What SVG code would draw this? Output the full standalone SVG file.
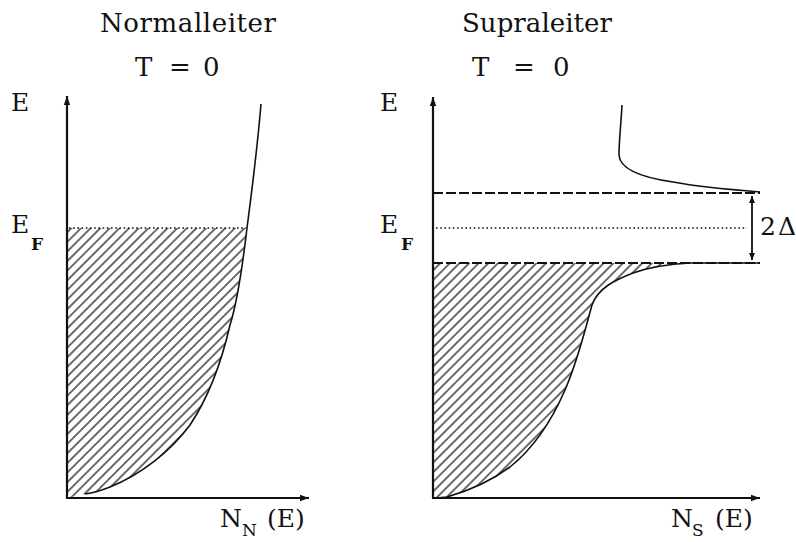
<svg xmlns="http://www.w3.org/2000/svg" width="796" height="542" viewBox="0 0 796 542">
<style>
.t{font-family:"DejaVu Serif","Liberation Serif",serif;fill:#111}
.ttl{font-size:26px}
.lbl{font-size:25px}
.sub{font-size:17px}
.axis{stroke:#111;stroke-width:2.2;fill:none}
.curve{stroke:#111;stroke-width:1.6;fill:none;stroke-linejoin:round}
.dot{stroke:#111;stroke-width:1.6;stroke-dasharray:1.6 2.6;fill:none}
.dash{stroke:#111;stroke-width:2.2;stroke-dasharray:10 3;fill:none}
</style>
<defs>
<marker id="ah" markerUnits="userSpaceOnUse" markerWidth="10" markerHeight="8" refX="9" refY="4" orient="auto">
<path d="M0,0.8 L9,4 L0,7.2 z" fill="#111"/>
</marker>
<marker id="ah2" markerUnits="userSpaceOnUse" markerWidth="8" markerHeight="8" refX="7" refY="3.5" orient="auto-start-reverse">
<path d="M0,0.5 L7,3.5 L0,6.5 z" fill="#111"/>
</marker>
<pattern id="hatch" patternUnits="userSpaceOnUse" width="6.8" height="10" patternTransform="rotate(45)">
<line x1="1" y1="0" x2="1" y2="10" stroke="#000" stroke-width="1.15"/>
</pattern>
</defs>

<g id="titles">
<text class="t ttl" x="100" y="32" textLength="176" lengthAdjust="spacing">Normalleiter</text>
<text class="t ttl" x="135" y="76">T</text>
<text class="t ttl" x="169" y="76">=</text>
<text class="t ttl" x="203" y="76">0</text>
<text class="t ttl" x="462" y="32" textLength="150" lengthAdjust="spacing">Supraleiter</text>
<text class="t ttl" x="472" y="76">T</text>
<text class="t ttl" x="513" y="76">=</text>
<text class="t ttl" x="553" y="76">0</text>
</g>

<g id="normal">
<path d="M67,228 L247,228 C243,262 238,300 230,325 C222,360 210,395 190,425 C170,452 140,475 110,487 C100,491 92,493 85,494 L67,498 Z" fill="url(#hatch)"/>
<path class="curve" d="M261,104 C258,140 252,190 247,228 C243,262 238,300 230,325 C222,360 210,395 190,425 C170,452 140,475 110,487 C100,491 92,493 85,494"/>
<line class="dot" x1="69" y1="228" x2="246" y2="228"/>
<line class="axis" x1="67" y1="498" x2="67" y2="96" marker-end="url(#ah)"/>
<line class="axis" x1="66" y1="498" x2="309" y2="498" marker-end="url(#ah)"/>
<text class="t lbl" x="11" y="111">E</text>
<text class="t lbl" x="11" y="233">E</text>
<text class="t sub" x="31" y="250" font-weight="bold">F</text>
<text class="t lbl" x="220" y="527">N</text>
<text class="t sub" x="242" y="536">N</text>
<text class="t lbl" x="267" y="527">(E)</text>
</g>

<g id="supra">
<path d="M433,263 L690,263 C670,264 650,267 633,273 C615,280 598,288 592,305 C585,330 578,360 565,390 C552,420 535,447 510,467 C490,482 468,491 447,497 L433,498 Z" fill="url(#hatch)"/>
<path class="curve" d="M760,263 L690,263 C670,264 650,267 633,273 C615,280 598,288 592,305 C585,330 578,360 565,390 C552,420 535,447 510,467 C490,482 468,491 447,497 L436,498"/>
<path class="curve" d="M622,105 C621,125 619,140 619,155 C620,170 645,178 673,182 C700,187 735,190 760,192"/>
<line class="dash" x1="433" y1="193" x2="760" y2="193"/>
<line class="dash" x1="433" y1="263" x2="760" y2="263"/>
<line class="dot" x1="436" y1="228" x2="747" y2="228"/>
<line x1="752" y1="196" x2="752" y2="260" stroke="#111" stroke-width="1.8" marker-start="url(#ah2)" marker-end="url(#ah2)"/>
<text class="t lbl" x="760" y="235">2</text>
<text class="t lbl" x="778" y="235">Δ</text>
<line class="axis" x1="433" y1="498" x2="433" y2="97" marker-end="url(#ah)"/>
<line class="axis" x1="432" y1="498" x2="760" y2="498" marker-end="url(#ah)"/>
<text class="t lbl" x="380" y="111">E</text>
<text class="t lbl" x="380" y="233">E</text>
<text class="t sub" x="401" y="250" font-weight="bold">F</text>
<text class="t lbl" x="671" y="527">N</text>
<text class="t sub" x="692" y="536">S</text>
<text class="t lbl" x="715" y="527">(E)</text>
</g>
</svg>
